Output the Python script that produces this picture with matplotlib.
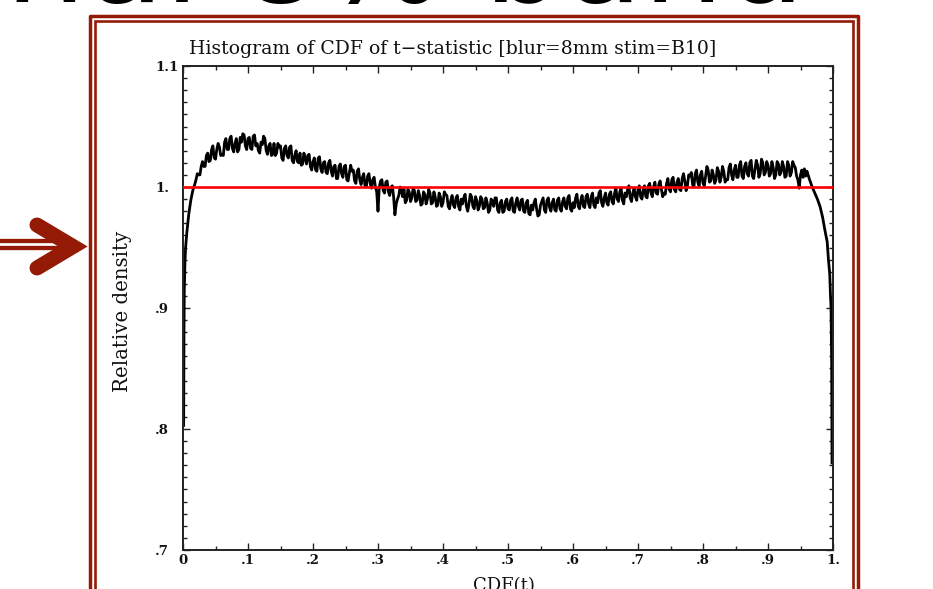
import numpy as np
import matplotlib
matplotlib.use("Agg")
import matplotlib.pyplot as plt
from matplotlib.lines import Line2D
from matplotlib.ticker import MultipleLocator, FixedLocator, FixedFormatter

# Data (relative density vs CDF(t))
left_x = [0.001, 0.0015, 0.002, 0.003, 0.004, 0.006, 0.009, 0.012, 0.015, 0.018]
left_y = [0.803, 0.880, 0.915, 0.938, 0.950, 0.963, 0.978, 0.989, 0.997, 1.002]

# bins of width 0.002 from 0.020 to 0.960
bin_start = 0.020
bin_step = 0.002
body_y = [
    1.006, 1.011, 1.010, 1.010, 1.017, 1.021, 1.017, 1.017, 1.026, 1.028,
    1.021, 1.022, 1.031, 1.034, 1.024, 1.023, 1.031, 1.036, 1.033, 1.026,
    1.027, 1.026, 1.037, 1.040, 1.031, 1.031, 1.040, 1.042, 1.032, 1.029,
    1.036, 1.040, 1.029, 1.031, 1.041, 1.037, 1.044, 1.043, 1.034, 1.031,
    1.040, 1.041, 1.032, 1.031, 1.042, 1.043, 1.034, 1.036, 1.030, 1.028,
    1.037, 1.035, 1.042, 1.040, 1.030, 1.027, 1.034, 1.036, 1.026, 1.027,
    1.036, 1.026, 1.028, 1.036, 1.033, 1.034, 1.024, 1.022, 1.032, 1.034,
    1.026, 1.024, 1.033, 1.034, 1.022, 1.020, 1.026, 1.030, 1.021, 1.020,
    1.028, 1.018, 1.019, 1.028, 1.024, 1.019, 1.026, 1.027, 1.017, 1.014,
    1.021, 1.024, 1.014, 1.013, 1.024, 1.025, 1.015, 1.012, 1.020, 1.021,
    1.012, 1.011, 1.020, 1.022, 1.013, 1.009, 1.017, 1.018, 1.007, 1.007,
    1.017, 1.019, 1.011, 1.008, 1.017, 1.018, 1.006, 1.005, 1.012, 1.018,
    1.013, 1.014, 1.005, 1.003, 1.013, 1.015, 1.006, 1.002, 1.008, 1.011,
    1.001, 1.000, 1.009, 1.011, 1.003, 0.999, 1.006, 1.008, 1.000, 0.996,
    0.980, 1.000, 1.005, 1.006, 0.997, 0.995, 1.004, 1.005, 0.996, 0.993,
    1.000, 1.001, 0.992, 0.977, 0.986, 0.990, 0.993, 1.000, 0.997, 0.992,
    0.998, 0.987, 0.989, 0.998, 0.996, 0.988, 0.991, 0.999, 0.997, 0.988,
    0.989, 0.997, 0.993, 0.985, 0.986, 0.996, 0.994, 0.986, 0.990, 0.998,
    0.995, 0.986, 0.987, 0.996, 0.992, 0.984, 0.985, 0.995, 0.992, 0.984,
    0.987, 0.996, 0.994, 0.993, 0.984, 0.982, 0.989, 0.993, 0.985, 0.983,
    0.991, 0.993, 0.984, 0.981, 0.990, 0.986, 0.991, 0.994, 0.984, 0.980,
    0.986, 0.994, 0.992, 0.984, 0.982, 0.992, 0.989, 0.981, 0.984, 0.992,
    0.990, 0.982, 0.983, 0.991, 0.987, 0.979, 0.981, 0.990, 0.988, 0.984,
    0.991, 0.991, 0.981, 0.979, 0.987, 0.989, 0.979, 0.980, 0.988, 0.990,
    0.982, 0.981, 0.989, 0.991, 0.980, 0.979, 0.987, 0.991, 0.984, 0.981,
    0.989, 0.990, 0.980, 0.979, 0.987, 0.989, 0.978, 0.977, 0.985, 0.981,
    0.987, 0.990, 0.982, 0.976, 0.977, 0.985, 0.988, 0.991, 0.981, 0.979,
    0.989, 0.991, 0.983, 0.980, 0.987, 0.990, 0.981, 0.980, 0.989, 0.991,
    0.982, 0.980, 0.988, 0.991, 0.984, 0.982, 0.991, 0.993, 0.982, 0.980,
    0.987, 0.983, 0.991, 0.994, 0.984, 0.982, 0.989, 0.993, 0.984, 0.983,
    0.992, 0.994, 0.986, 0.983, 0.992, 0.995, 0.985, 0.983, 0.991, 0.987,
    0.995, 0.997, 0.987, 0.984, 0.991, 0.995, 0.987, 0.985, 0.994, 0.996,
    0.988, 0.986, 0.995, 0.999, 0.990, 0.988, 0.996, 0.999, 0.989, 0.986,
    0.995, 0.992, 0.998, 1.001, 0.991, 0.988, 0.995, 0.999, 0.992, 0.989,
    0.998, 1.001, 0.992, 0.990, 0.997, 1.001, 0.992, 0.991, 1.001, 1.003,
    0.995, 0.992, 1.000, 1.004, 0.995, 0.994, 1.002, 1.005, 0.998, 0.992,
    0.995, 0.994, 1.003, 1.007, 0.998, 0.996, 1.006, 1.008, 0.998, 0.996,
    1.004, 1.007, 0.998, 0.997, 1.007, 1.011, 1.005, 0.997, 1.001, 1.010,
    1.009, 1.012, 1.002, 1.000, 1.011, 1.014, 1.004, 1.001, 1.010, 1.013,
    1.003, 1.001, 1.009, 1.017, 1.014, 1.004, 1.005, 1.014, 1.010, 1.003,
    1.006, 1.016, 1.013, 1.004, 1.008, 1.017, 1.013, 1.004, 1.006, 1.006,
    1.016, 1.019, 1.010, 1.006, 1.014, 1.018, 1.008, 1.008, 1.018, 1.021,
    1.009, 1.007, 1.017, 1.020, 1.011, 1.009, 1.020, 1.022, 1.009, 1.007,
    1.015, 1.022, 1.018, 1.008, 1.011, 1.023, 1.020, 1.010, 1.012, 1.021,
    1.018, 1.009, 1.011, 1.021, 1.016, 1.007, 1.010, 1.021, 1.019, 1.010,
    1.012, 1.021, 1.017, 1.008, 1.009, 1.021, 1.018, 1.009, 1.012, 1.021,
    1.018, 1.016, 1.009, 1.006, 0.999, 1.010, 1.014, 1.008, 1.015, 1.009,
    1.013,
]

right_x = [0.964, 0.968, 0.972, 0.976, 0.980, 0.984, 0.988, 0.991, 0.993,
           0.995, 0.996, 0.997, 0.998, 0.9985]
right_y = [1.006, 1.000, 0.995, 0.990, 0.984, 0.975, 0.963, 0.955, 0.940,
           0.928, 0.912, 0.900, 0.850, 0.772]

reference_level = 1.0

x_ticks = [0, .1, .2, .3, .4, .5, .6, .7, .8, .9, 1.0]
x_tick_labels = ['0', '.1', '.2', '.3', '.4', '.5', '.6', '.7', '.8', '.9', '1.']
y_ticks = [.7, .8, .9, 1.0, 1.1]
y_tick_labels = ['.7', '.8', '.9', '1.', '1.1']

title = "Histogram of CDF of t\u2212statistic [blur=8mm stim=B10]"
heading = "nal 8% band"

body_x = bin_start + bin_step * np.arange(len(body_y))
cdf = np.concatenate([left_x, body_x, right_x])
density = np.concatenate([left_y, body_y, right_y])

W, H = 933, 589
frame_red = '#951a06'


def fx(p):
    return p / W


def fy(p):
    return 1 - p / H


fig = plt.figure(figsize=(W / 100, H / 100), dpi=100)
fig.patch.set_facecolor('white')

ax = fig.add_axes([fx(183), fy(550), 650 / W, 484 / H])
ax.plot(cdf, density, color='black', lw=2.0, zorder=2)
ax.axhline(reference_level, color='red', lw=1.9, zorder=3)
ax.set_xlim(0, 1)
ax.set_ylim(0.7, 1.1)

ax.xaxis.set_major_locator(FixedLocator(x_ticks))
ax.xaxis.set_major_formatter(FixedFormatter(x_tick_labels))
ax.xaxis.set_minor_locator(MultipleLocator(0.05))
ax.yaxis.set_major_locator(FixedLocator(y_ticks))
ax.yaxis.set_major_formatter(FixedFormatter(y_tick_labels))
ax.yaxis.set_minor_locator(MultipleLocator(0.01))

ax.tick_params(which='both', direction='in', top=True, right=True,
               color='#222222', width=1.0)
ax.tick_params(which='major', length=5)
ax.tick_params(which='minor', length=3)
ax.tick_params(axis='x', which='major', pad=3)
ax.tick_params(axis='y', which='major', pad=20)
for lab in ax.get_xticklabels() + ax.get_yticklabels():
    lab.set_family('DejaVu Serif')
    lab.set_fontsize(9.5)
    lab.set_weight('bold')
    lab.set_color('#111111')
for lab in ax.get_yticklabels():
    lab.set_horizontalalignment('left')
for sp in ax.spines.values():
    sp.set_linewidth(1.4)
    sp.set_color('#222222')

serif = ['DejaVu Serif']
fig.text(fx(453), fy(54), title, family=serif, fontsize=13.6,
         ha='center', va='baseline', color='#111111')
fig.text(fx(123), fy(311), "Relative density", family=serif, fontsize=14.2,
         rotation=90, ha='center', va='center', color='#111111')
fig.text(fx(504), fy(591), "CDF(t)", family=serif, fontsize=13,
         ha='center', va='baseline', color='#111111')

# slide heading, cut off by the top edge
fig.text(fx(805), fy(1.5), heading, family=['DejaVu Sans'],
         fontsize=92, ha='right', va='baseline', color='black')

# double frame around the plot
outer = Line2D([fx(89.7), fx(89.7), fx(858.3), fx(858.3)],
               [fy(600), fy(15.5), fy(15.5), fy(600)],
               transform=fig.transFigure, color=frame_red, lw=2.5,
               solid_joinstyle='round')
inner = Line2D([fx(94.7), fx(94.7), fx(853), fx(853)],
               [fy(600), fy(20.8), fy(20.8), fy(600)],
               transform=fig.transFigure, color=frame_red, lw=1.9,
               solid_joinstyle='miter')
fig.add_artist(outer)
fig.add_artist(inner)

# double-shafted arrow pointing at the frame
for yy in (240.5, 248.5):
    fig.add_artist(Line2D([fx(0), fx(68)], [fy(yy), fy(yy)],
                          transform=fig.transFigure, color=frame_red,
                          lw=3.1, solid_capstyle='butt'))
fig.add_artist(Line2D([fx(37), fx(73), fx(37)], [fy(225), fy(246.5), fy(268)],
                      transform=fig.transFigure, color=frame_red, lw=10.8,
                      solid_capstyle='round', solid_joinstyle='miter'))

fig.savefig('out.png', dpi=100, facecolor='white')
